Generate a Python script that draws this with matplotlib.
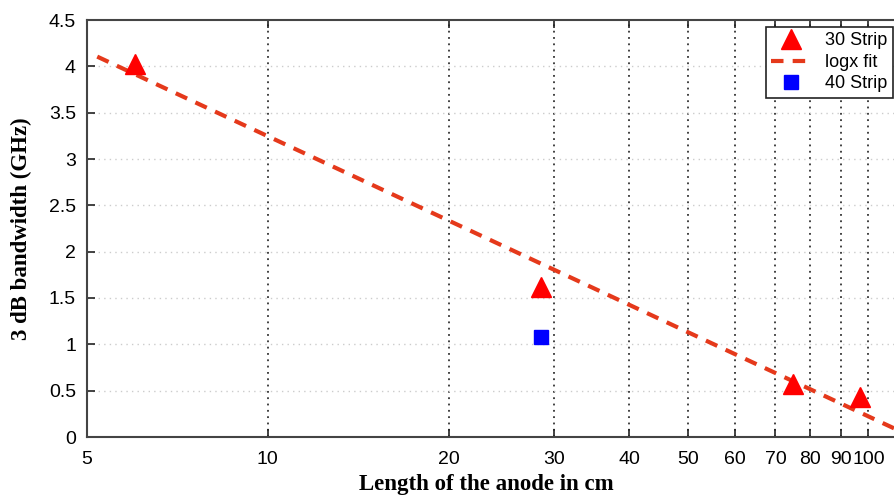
import numpy as np
import matplotlib
matplotlib.use('Agg')
from matplotlib import pyplot as plt
from matplotlib.ticker import FixedLocator, FixedFormatter, NullLocator

# data
len30 = [6.0, 28.5, 75.0, 97.0]
bw30 = [4.03, 1.62, 0.57, 0.43]
len40 = [28.5]
bw40 = [1.08]
xticks = [5, 10, 20, 30, 40, 50, 60, 70, 80, 90, 100]
yticks = [0, 0.5, 1, 1.5, 2, 2.5, 3, 3.5, 4, 4.5]

# log-x fit through the 30 strip points
b, a = np.polyfit(np.log10(len30), bw30, 1)
xfit = np.logspace(np.log10(5.2), np.log10(120), 50)
yfit = a + b * np.log10(xfit)

fig = plt.figure(figsize=(8.94, 5.01), dpi=100)
ax = fig.add_axes([87/894, 64/501, 829/894, 417/501])

ax.set_xscale('log')
ax.set_xlim(5, 120)
ax.set_ylim(0, 4.5)

ax.plot(xfit, yfit, '--', color='#e5391b', lw=3, dashes=(3, 2.2), label='logx fit', zorder=3)
ax.plot(len30, bw30, '^', color='red', ms=14, label='30 Strip', zorder=4)
ax.plot(len40, bw40, 's', color='blue', ms=10, label='40 Strip', zorder=4)

ax.xaxis.set_major_locator(FixedLocator(xticks))
ax.xaxis.set_major_formatter(FixedFormatter([str(t) for t in xticks]))
ax.xaxis.set_minor_locator(NullLocator())
ax.set_yticks(yticks)
ax.set_yticklabels(['%g' % t for t in yticks])

for t in xticks[1:]:
    ax.axvline(t, color='#333333', ls=(0, (1, 2.5)), lw=1.3, zorder=1)
for t in yticks[1:-1]:
    ax.axhline(t, color='#cccccc', ls=(0, (1, 3)), lw=1, zorder=1)

ax.tick_params(direction='in', length=6, width=1.2, top=True, right=True,
               labelsize=14, colors='#222222', labelcolor='black')
ax.tick_params(axis='x', pad=10)
ax.tick_params(axis='y', pad=8)
for s in ax.spines.values():
    s.set_color('#444444')
    s.set_linewidth(1.5)

ax.set_xlabel('Length of the anode in cm', family='Liberation Serif',
              fontweight='bold', fontsize=16.5)
ax.set_ylabel('3 dB bandwidth (GHz)', family='Liberation Serif',
              fontweight='bold', fontsize=16.5)
# label positions in pixels -> axes coords
ax.xaxis.set_label_coords((486 - 87) / 829, -(474 - 437) / 417)
ax.yaxis.set_label_coords(-(87 - 32) / 829, 0.5)
for lab in ax.get_xticklabels() + ax.get_yticklabels():
    lab.set_family('Liberation Sans')

handles, labels = ax.get_legend_handles_labels()
order = [1, 0, 2]
leg = fig.legend([handles[i] for i in order], [labels[i] for i in order],
                 loc='upper right', bbox_to_anchor=(893/894, 1 - 27/501),
                 fancybox=False, edgecolor='#222222',
                 prop={'family': 'Liberation Sans', 'size': 13},
                 handlelength=2.2, borderpad=0.3, labelspacing=0.25,
                 borderaxespad=0, framealpha=1)
leg.get_frame().set_linewidth(1.2)

fig.savefig('out.png', dpi=100)
